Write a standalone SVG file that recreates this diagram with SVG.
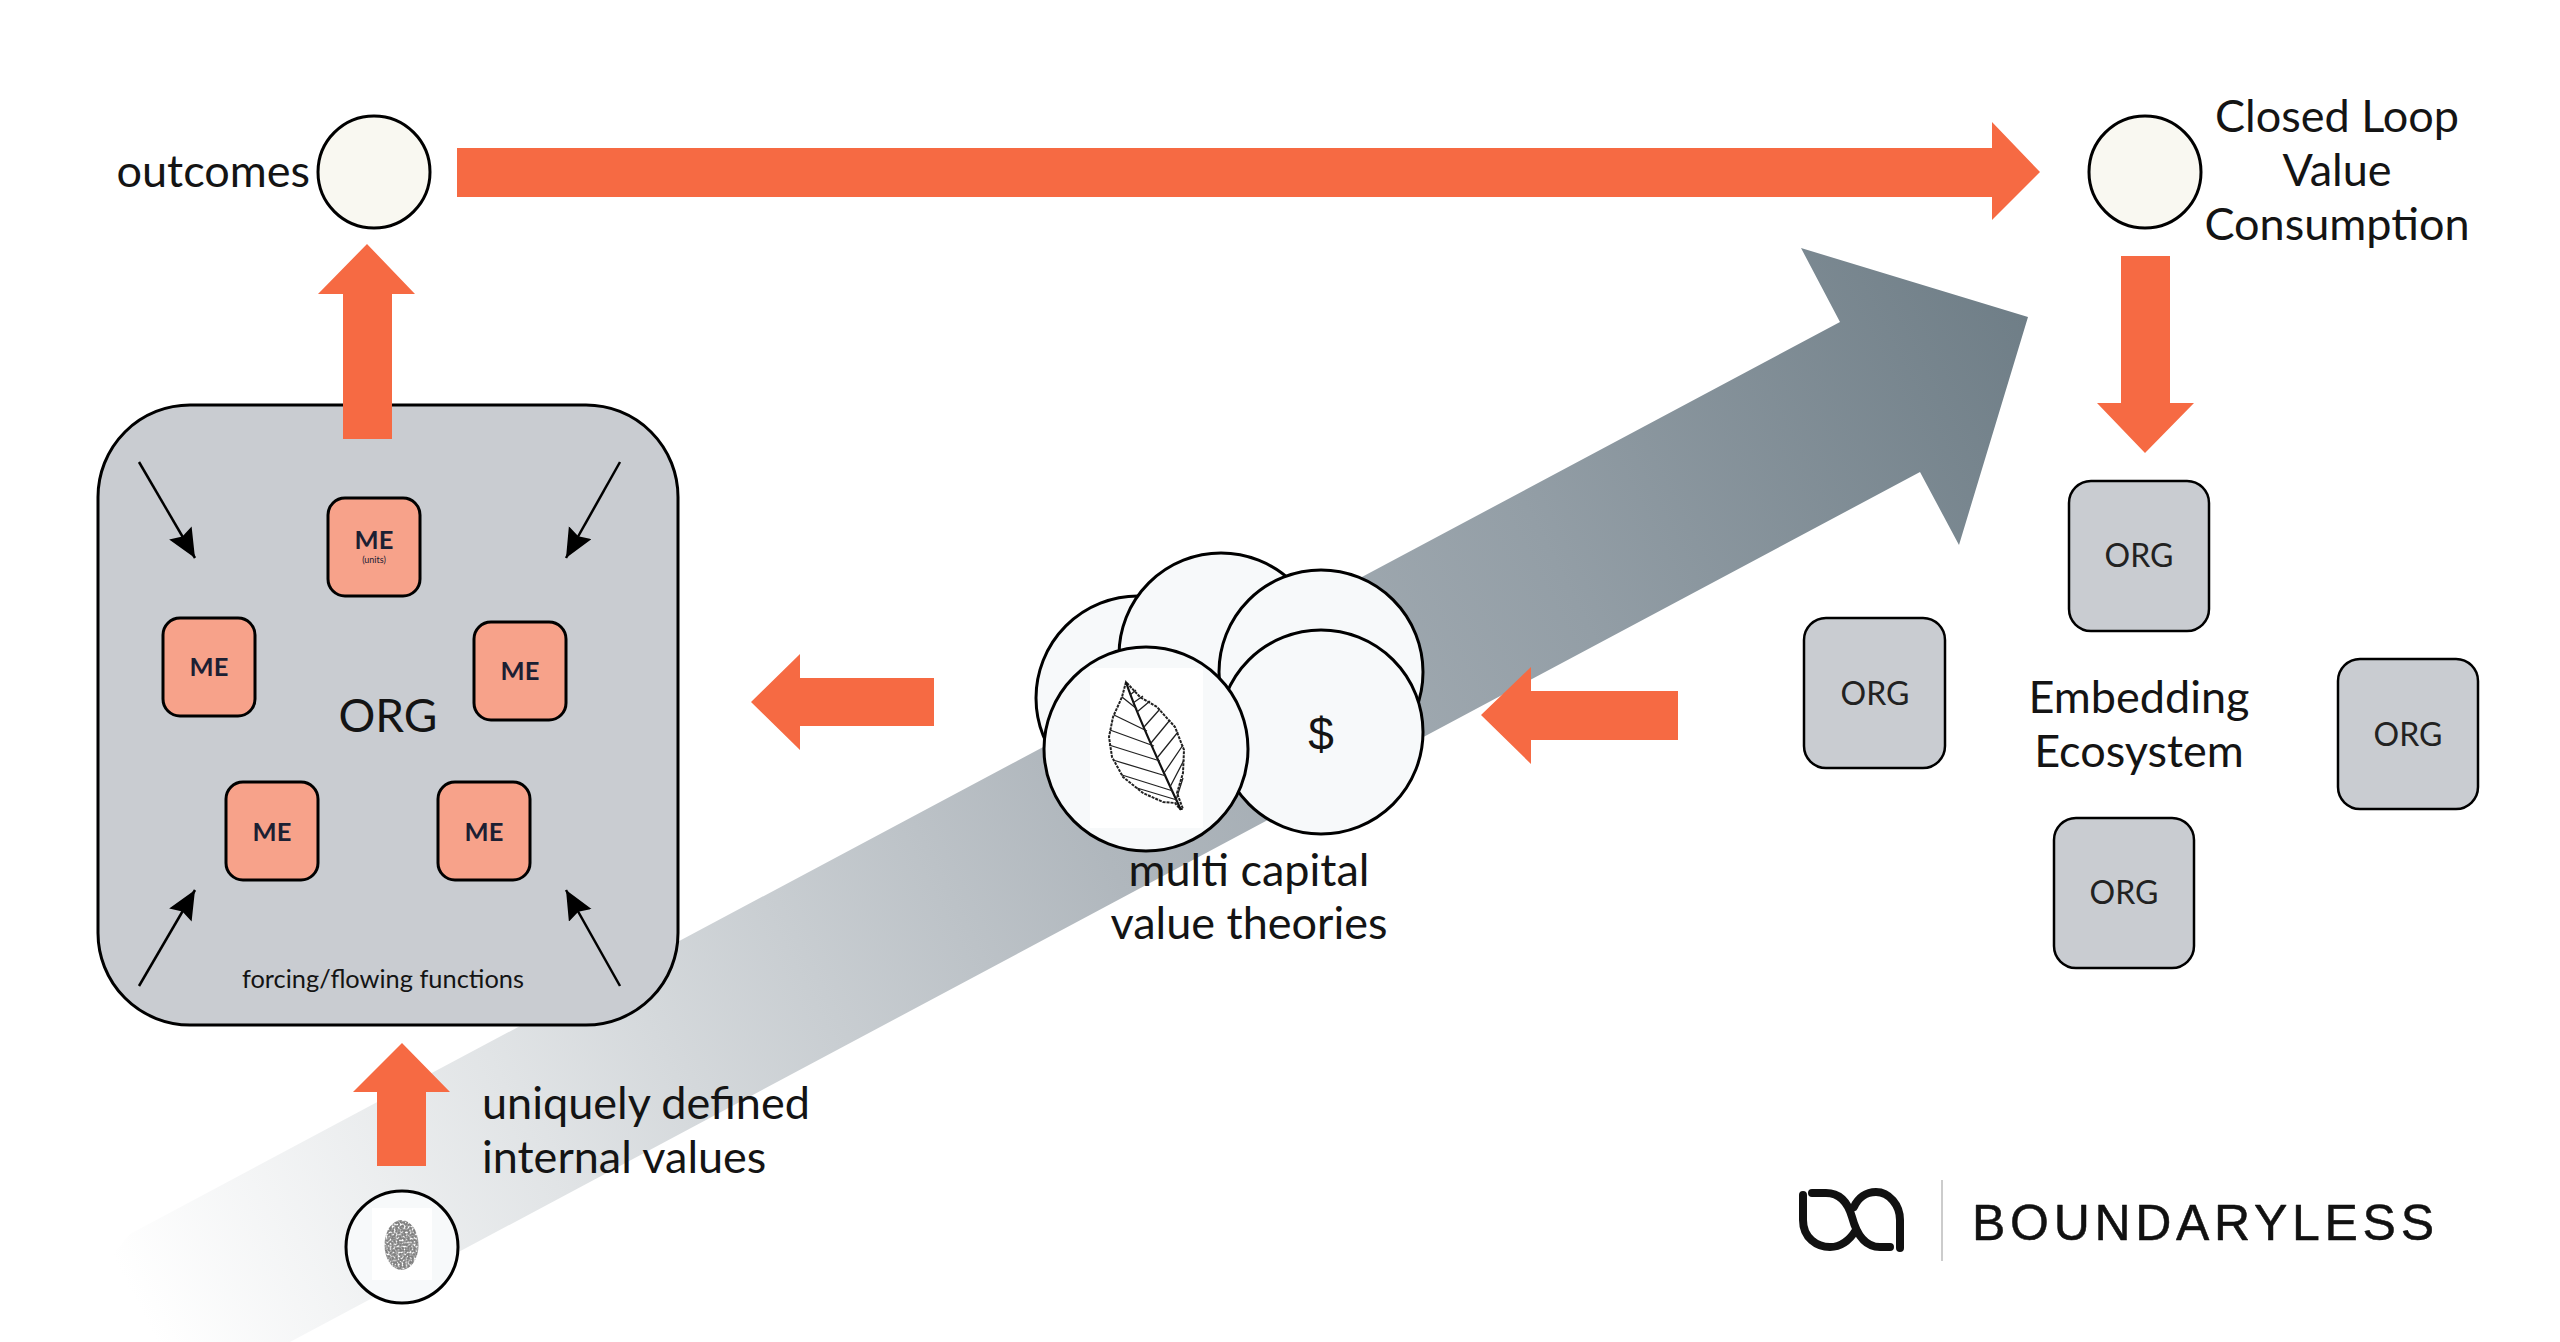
<svg xmlns="http://www.w3.org/2000/svg" width="2560" height="1342" viewBox="0 0 2560 1342">
<style>
text{font-family:Lato,"Noto Sans",sans-serif;fill:#141414}
.lg{font-size:45px}
.mid{text-anchor:middle}
.org rect{fill:#c9ccd1;stroke:#000;stroke-width:2.5}
.org text{font-size:32px;text-anchor:middle;fill:#222}
.me rect{fill:#f7a28a;stroke:#000;stroke-width:3}
.me text{font-size:25.500px;font-weight:700;text-anchor:middle;fill:#1c2033}
.cap{fill:#f7f9fa;stroke:#000;stroke-width:3}
.out{fill:#f9f8f1;stroke:#000;stroke-width:3}
.orange{fill:#f66a43}
.thin{stroke:#000;stroke-width:2.5;fill:none;marker-end:url(#ah)}
.vein{stroke:#222;stroke-width:1.300;fill:none}
.logo{fill:none;stroke:#111;stroke-width:8;stroke-linecap:round}
</style>
<defs>
<linearGradient id="big" gradientUnits="userSpaceOnUse" x1="130" y1="1290" x2="2028" y2="317">
<stop offset="0" stop-color="#fff"/>
<stop offset="0.2" stop-color="#e1e4e6"/>
<stop offset="0.5" stop-color="#b0b7bd"/>
<stop offset="0.75" stop-color="#939ea6"/>
<stop offset="1" stop-color="#6f7e87"/>
</linearGradient>
<marker id="ah" markerUnits="userSpaceOnUse" markerWidth="32" markerHeight="28" refX="29" refY="13" orient="auto">
<path d="M0 0L29 13L0 26L4 13Z" fill="#000"/>
</marker>
<filter id="grain" x="0" y="0" width="100%" height="100%">
<feTurbulence type="fractalNoise" baseFrequency="0.5" numOctaves="2" seed="4"/>
<feColorMatrix values="0 0 0 0 0.22 0 0 0 0 0.22 0 0 0 0 0.22 3.2 0 0 0 -0.8"/>
<feComposite in2="SourceGraphic" operator="in"/>
</filter>
</defs>

<path id="big-arrow" d="M40 1342L130 1234L1840 322L1801 248L2028 317L1959 545L1920 472L290 1342Z" fill="url(#big)"/>

<g id="connectors">
<path class="orange" d="M457 148H1992V122L2040 172L1992 220V197H457Z"/>
<path class="orange" d="M343 439V294H318L367 244L415 294H392V439Z"/>
<path class="orange" d="M934 678H800V654L751 702L800 750V726H934Z"/>
<path class="orange" d="M1678 691H1531V667L1481 715L1531 764V740H1678Z"/>
<path class="orange" d="M2121 256H2170V403H2194L2145 453L2097 403H2121Z"/>
<path class="orange" d="M377 1166V1092H353L402 1043L450 1092H426V1166Z"/>
</g>

<g id="org-main">
<rect x="98" y="405" width="580" height="620" rx="92" fill="#c9ccd1" stroke="#000" stroke-width="3"/>
<path class="orange" d="M343 350H392V439H343Z"/>
<text x="388" y="732" font-size="46" class="mid">ORG</text>
<text x="383" y="988" font-size="25.400" class="mid">forcing/flowing functions</text>
<path class="thin" d="M139 462L195 558"/>
<path class="thin" d="M620 462L566 558"/>
<path class="thin" d="M139 986L195 890"/>
<path class="thin" d="M620 986L566 890"/>
</g>
<g id="me-top" class="me"><rect x="328" y="498" width="92" height="98" rx="17"/><text x="374" y="549">ME</text><text x="374" y="563" style="font-size:9px;font-weight:400">(units)</text></g>
<g id="me-left" class="me"><rect x="163" y="618" width="92" height="98" rx="17"/><text x="209" y="676">ME</text></g>
<g id="me-right" class="me"><rect x="474" y="622" width="92" height="98" rx="17"/><text x="520" y="680">ME</text></g>
<g id="me-bl" class="me"><rect x="226" y="782" width="92" height="98" rx="17"/><text x="272" y="841">ME</text></g>
<g id="me-br" class="me"><rect x="438" y="782" width="92" height="98" rx="17"/><text x="484" y="841">ME</text></g>

<g id="outcomes"><circle class="out" cx="374" cy="172" r="56"/><text class="lg" x="310" y="187" text-anchor="end">outcomes</text></g>
<g id="closed-loop"><circle class="out" cx="2145" cy="172" r="56"/>
<text class="lg mid" x="2337" y="132">Closed Loop</text><text class="lg mid" x="2337" y="186">Value</text><text class="lg mid" x="2337" y="240">Consumption</text></g>

<g id="org-1" class="org"><rect x="2069" y="481" width="140" height="150" rx="22"/><text x="2139" y="567">ORG</text></g>
<g id="org-2" class="org"><rect x="1804" y="618" width="141" height="150" rx="22"/><text x="1875" y="705">ORG</text></g>
<g id="org-3" class="org"><rect x="2338" y="659" width="140" height="150" rx="22"/><text x="2408" y="746">ORG</text></g>
<g id="org-4" class="org"><rect x="2054" y="818" width="140" height="150" rx="22"/><text x="2124" y="904">ORG</text></g>
<g id="ecosystem"><text class="lg mid" x="2139" y="713">Embedding</text><text class="lg mid" x="2139" y="767">Ecosystem</text></g>

<g id="capitals">
<circle class="cap" cx="1138" cy="698" r="102"/>
<circle class="cap" cx="1221" cy="655" r="102"/>
<circle class="cap" cx="1321" cy="672" r="102"/>
<circle class="cap" cx="1321" cy="732" r="102"/>
<text x="1321" y="750" font-size="46" class="mid" style="font-family:'Liberation Sans',sans-serif">$</text>
<circle class="cap" cx="1146" cy="749" r="102"/>
<rect x="1090" y="668" width="113" height="160" fill="#fff"/>
<path d="M1126 682L1122 697L1113 717L1109 737L1112 757L1123 777L1143 793L1163 802L1175 803L1180 809L1183 809L1177 793L1183 773L1184 750L1175 727L1157 707L1140 697Z" fill="#fff" stroke="#222" stroke-width="2" stroke-dasharray="3 1"/>
<path d="M1126 682C1135 710 1160 765 1181 810" fill="none" stroke="#111" stroke-width="2.200"/>
<path class="vein" d="M1122 697L1137 709M1114 715L1147 731M1110 730L1154 746M1109 745L1160 761M1113 760L1166 776M1122 775L1173 791M1137 788L1177 800M1130 695L1136 690M1133 703L1143 696M1137 712L1150 701M1144 727L1160 709M1151 743L1170 720M1157 758L1178 732M1164 773L1183 745M1170 787L1184 760M1176 800L1183 778"/>
<text class="lg mid" x="1249" y="886">multi capital</text>
<text class="lg mid" x="1249" y="939">value theories</text>
</g>

<g id="values">
<circle cx="402" cy="1247" r="56" fill="#f7f9fa" stroke="#000" stroke-width="3"/>
<rect x="372" y="1208" width="60" height="72" fill="#fff"/>
<ellipse cx="401.500" cy="1245" rx="17" ry="25" fill="#333" filter="url(#grain)"/>
<text class="lg" x="482" y="1119">uniquely defined</text>
<text class="lg" x="482" y="1173">internal values</text>
</g>

<g id="logo">
<path class="logo" d="M1803 1195V1220C1803 1238 1817 1247 1830 1247C1843 1247 1851 1238 1856 1230"/>
<path class="logo" d="M1812 1193H1826C1840 1193 1848 1203 1852 1217C1856 1232 1864 1247 1880 1247H1890"/>
<path class="logo" d="M1900 1248V1220C1900 1205 1889 1192 1876 1192C1866 1192 1858 1198 1854 1207"/>
<path d="M1942 1180V1261" stroke="#bbb" stroke-width="1.500"/>
<text x="1972" y="1240" font-size="50" textLength="462" lengthAdjust="spacing" stroke="#111" stroke-width="0.500" stroke-linejoin="round" style="font-family:'Liberation Sans',sans-serif;fill:#111">BOUNDARYLESS</text>
</g>
</svg>
